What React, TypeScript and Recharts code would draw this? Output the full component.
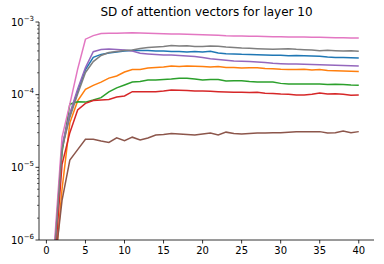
import { LineChart, Line, XAxis, YAxis } from 'recharts';

const STEPS = [1, 2, 3, 4, 5, 6, 7, 8, 9, 10, 11, 12, 13, 14, 15, 16, 17, 18, 19, 20, 21, 22, 23, 24, 25, 26, 27, 28, 29, 30, 31, 32, 33, 34, 35, 36, 37, 38, 39, 40];

const BLUE = [6e-7, 1.9e-5, 5.2e-5, 1.12e-4, 2.22e-4, 3.27e-4, 3.58e-4, 3.75e-4, 3.87e-4, 3.99e-4, 4.05e-4, 4.05e-4, 4.05e-4, 3.99e-4, 3.99e-4, 3.93e-4, 3.93e-4, 3.87e-4, 3.93e-4, 3.87e-4, 3.95e-4, 3.75e-4, 3.65e-4, 3.63e-4, 3.59e-4, 3.57e-4, 3.55e-4, 3.52e-4, 3.48e-4, 3.48e-4, 3.44e-4, 3.46e-4, 3.43e-4, 3.41e-4, 3.37e-4, 3.3e-4, 3.25e-4, 3.25e-4, 3.23e-4, 3.2e-4];
const ORANGE = [3e-7, 5e-6, 4.1e-5, 8.2e-5, 1.18e-4, 1.34e-4, 1.49e-4, 1.69e-4, 1.81e-4, 2.05e-4, 2.22e-4, 2.22e-4, 2.33e-4, 2.37e-4, 2.4e-4, 2.48e-4, 2.44e-4, 2.48e-4, 2.46e-4, 2.44e-4, 2.4e-4, 2.44e-4, 2.37e-4, 2.37e-4, 2.33e-4, 2.35e-4, 2.35e-4, 2.29e-4, 2.27e-4, 2.23e-4, 2.22e-4, 2.22e-4, 2.23e-4, 2.18e-4, 2.22e-4, 2.15e-4, 2.14e-4, 2.12e-4, 2.1e-4, 2.09e-4];
const GREEN = [5e-7, 1.6e-5, 7.4e-5, 8.0e-5, 7.9e-5, 8.45e-5, 9.1e-5, 1.09e-4, 1.24e-4, 1.36e-4, 1.49e-4, 1.52e-4, 1.59e-4, 1.59e-4, 1.62e-4, 1.64e-4, 1.68e-4, 1.68e-4, 1.64e-4, 1.59e-4, 1.62e-4, 1.62e-4, 1.54e-4, 1.56e-4, 1.56e-4, 1.52e-4, 1.49e-4, 1.49e-4, 1.49e-4, 1.43e-4, 1.4e-4, 1.4e-4, 1.4e-4, 1.4e-4, 1.4e-4, 1.38e-4, 1.39e-4, 1.38e-4, 1.36e-4, 1.35e-4];
const RED = [4e-7, 1.1e-5, 3.0e-5, 6.15e-5, 7.6e-5, 8.3e-5, 8.45e-5, 8.6e-5, 9.3e-5, 9.6e-5, 1.1e-4, 1.1e-4, 1.1e-4, 1.1e-4, 1.12e-4, 1.16e-4, 1.15e-4, 1.14e-4, 1.12e-4, 1.12e-4, 1.11e-4, 1.1e-4, 1.09e-4, 1.08e-4, 1.08e-4, 1.07e-4, 1.08e-4, 1.05e-4, 1.04e-4, 1.02e-4, 1.01e-4, 9.9e-5, 9.9e-5, 1.01e-4, 1.05e-4, 1.02e-4, 1.03e-4, 1.01e-4, 9.8e-5, 9.9e-5];
const PURPLE = [6.5e-7, 2.0e-5, 5.5e-5, 1.2e-4, 2.36e-4, 3.9e-4, 4.18e-4, 4.25e-4, 4.18e-4, 4.12e-4, 3.99e-4, 3.71e-4, 3.63e-4, 3.57e-4, 3.52e-4, 3.52e-4, 3.46e-4, 3.41e-4, 3.36e-4, 3.25e-4, 3.13e-4, 3.05e-4, 2.97e-4, 2.9e-4, 2.88e-4, 2.85e-4, 2.82e-4, 2.78e-4, 2.7e-4, 2.67e-4, 2.64e-4, 2.64e-4, 2.62e-4, 2.61e-4, 2.59e-4, 2.56e-4, 2.54e-4, 2.52e-4, 2.5e-4, 2.48e-4];
const BROWN = [4e-7, 3.5e-6, 1.26e-5, 1.75e-5, 2.43e-5, 2.43e-5, 2.3e-5, 2.2e-5, 2.55e-5, 2.33e-5, 2.6e-5, 2.38e-5, 2.53e-5, 2.79e-5, 2.84e-5, 2.93e-5, 2.88e-5, 2.84e-5, 2.79e-5, 2.88e-5, 2.96e-5, 2.79e-5, 3.05e-5, 2.93e-5, 2.88e-5, 2.93e-5, 2.97e-5, 2.97e-5, 3.0e-5, 3.0e-5, 3.05e-5, 3.08e-5, 3.08e-5, 3.1e-5, 3.1e-5, 2.96e-5, 3.0e-5, 3.16e-5, 3.0e-5, 3.1e-5];
const PINK = [8e-7, 2.6e-5, 7.4e-5, 2.25e-4, 5.8e-4, 6.5e-4, 6.95e-4, 6.99e-4, 6.99e-4, 7.06e-4, 7.13e-4, 7.06e-4, 6.99e-4, 6.95e-4, 6.9e-4, 6.84e-4, 6.84e-4, 6.8e-4, 6.73e-4, 6.69e-4, 6.62e-4, 6.56e-4, 6.48e-4, 6.44e-4, 6.41e-4, 6.38e-4, 6.35e-4, 6.31e-4, 6.27e-4, 6.25e-4, 6.22e-4, 6.22e-4, 6.2e-4, 6.16e-4, 6.16e-4, 6.12e-4, 6.09e-4, 6.07e-4, 6.03e-4, 6.03e-4];
const GRAY = [6e-7, 1.8e-5, 4.9e-5, 1.02e-4, 2.02e-4, 2.85e-4, 3.46e-4, 3.81e-4, 3.93e-4, 4.05e-4, 4.12e-4, 4.32e-4, 4.46e-4, 4.53e-4, 4.6e-4, 4.74e-4, 4.67e-4, 4.71e-4, 4.6e-4, 4.6e-4, 4.67e-4, 4.63e-4, 4.53e-4, 4.46e-4, 4.39e-4, 4.35e-4, 4.3e-4, 4.25e-4, 4.21e-4, 4.25e-4, 4.3e-4, 4.21e-4, 4.16e-4, 4.12e-4, 4.03e-4, 4.08e-4, 4.03e-4, 3.99e-4, 4.01e-4, 3.95e-4];

const X_TICKS = [0, 5, 10, 15, 20, 25, 30, 35, 40];
const Y_TICKS = [
  1e-6, 2e-6, 3e-6, 4e-6, 5e-6, 6e-6, 7e-6, 8e-6, 9e-6,
  1e-5, 2e-5, 3e-5, 4e-5, 5e-5, 6e-5, 7e-5, 8e-5, 9e-5,
  1e-4, 2e-4, 3e-4, 4e-4, 5e-4, 6e-4, 7e-4, 8e-4, 9e-4,
  1e-3,
];

const SERIES = [
  { key: 'c0', values: BLUE, color: '#1f77b4' },
  { key: 'c1', values: ORANGE, color: '#ff7f0e' },
  { key: 'c2', values: GREEN, color: '#2ca02c' },
  { key: 'c3', values: RED, color: '#d62728' },
  { key: 'c4', values: PURPLE, color: '#9467bd' },
  { key: 'c5', values: BROWN, color: '#8c564b' },
  { key: 'c6', values: PINK, color: '#e377c2' },
  { key: 'c7', values: GRAY, color: '#7f7f7f' },
];

const data = STEPS.map((step, i) => {
  const row: any = { step };
  SERIES.forEach((s) => (row[s.key] = s.values[i]));
  return row;
});

const FONT = 'DejaVu Sans, sans-serif';

const YTick = ({ x, y, payload }: any) => {
  const lg = Math.log10(payload.value);
  const exp = Math.round(lg);
  const major = Math.abs(lg - exp) < 1e-6;
  return (
    <g>
      <line x1={x - (major ? 3.5 : 2)} x2={x} y1={y} y2={y} stroke='#000' strokeWidth={major ? 0.8 : 0.6} />
      {major && (
        <text x={x - 5} y={y + 3.6} textAnchor='end' fontSize={10} fill='#000' fontFamily={FONT}>
          10
          <tspan dy={-5} fontSize={7}>{`\u2212${-exp}`}</tspan>
        </text>
      )}
    </g>
  );
};

const XTick = ({ x, y, payload }: any) => (
  <g>
    <line x1={x} x2={x} y1={y} y2={y + 3.5} stroke='#000' strokeWidth={0.8} />
    <text x={x} y={y + 14.3} textAnchor='middle' fontSize={10} fill='#000' fontFamily={FONT}>
      {payload.value}
    </text>
  </g>
);

const App = () => {
  return (
    <div style={{ position: 'absolute', left: 0, top: 0, width: 384, height: 264, background: '#fff' }}>
      <div
        style={{
          position: 'absolute',
          left: 39,
          width: 335,
          top: 5,
          textAlign: 'center',
          fontFamily: FONT,
          fontSize: 12,
          lineHeight: '15px',
          color: '#000',
        }}
      >
        SD of attention vectors for layer 10
      </div>
      <LineChart width={384} height={264} data={data} margin={{ top: 22, right: 10, bottom: 0, left: 0 }}>
        <XAxis
          dataKey='step'
          type='number'
          domain={[-0.95, 41.95]}
          allowDataOverflow
          ticks={X_TICKS}
          interval={0}
          height={24}
          tickSize={0}
          tickMargin={0}
          tickLine={false}
          tick={<XTick />}
          axisLine={{ stroke: '#000', strokeWidth: 0.8 }}
        />
        <XAxis
          xAxisId='top'
          orientation='top'
          type='number'
          domain={[0, 1]}
          height={0}
          tick={false}
          tickLine={false}
          axisLine={{ stroke: '#000', strokeWidth: 0.8 }}
        />
        <YAxis
          type='number'
          scale='log'
          domain={[1e-6, 1e-3]}
          allowDataOverflow
          ticks={Y_TICKS}
          interval={0}
          width={39}
          tickSize={0}
          tickMargin={0}
          tickLine={false}
          tick={<YTick />}
          axisLine={{ stroke: '#000', strokeWidth: 0.8 }}
        />
        <YAxis
          yAxisId='right'
          orientation='right'
          type='number'
          domain={[0, 1]}
          width={0}
          tick={false}
          tickLine={false}
          axisLine={{ stroke: '#000', strokeWidth: 0.8 }}
        />
        {SERIES.map((s) => (
          <Line
            key={s.key}
            dataKey={s.key}
            stroke={s.color}
            strokeWidth={1.5}
            dot={false}
            activeDot={false}
            type='linear'
            isAnimationActive={false}
          />
        ))}
      </LineChart>
    </div>
  );
};

export default App;
